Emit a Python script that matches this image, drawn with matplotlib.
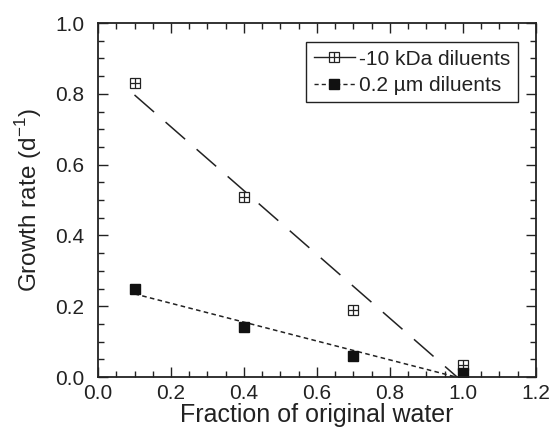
import numpy as np
import matplotlib
matplotlib.use('Agg')
import matplotlib.pyplot as plt
from matplotlib.lines import Line2D
from matplotlib.ticker import MultipleLocator, FormatStrFormatter

plt.rcParams['font.family'] = ['Liberation Sans', 'DejaVu Sans']

# data
fraction = [0.1, 0.4, 0.7, 1.0]
rate_10kda = [0.83, 0.51, 0.19, 0.035]
rate_02um = [0.25, 0.14, 0.06, 0.01]
labels = ['-10 kDa diluents', '0.2 µm diluents']

fig = plt.figure(figsize=(5.55, 4.36), dpi=100)
ax = fig.add_axes([0.1766, 0.1353, 0.789, 0.8117])

# regression lines drawn from first x to x-intercept
for y, dashes in [(rate_10kda, (17, 10)), (rate_02um, (3, 2.2))]:
    slope, icpt = np.polyfit(fraction, y, 1)
    x0 = -icpt / slope
    xs = np.array([fraction[0], x0])
    ax.plot(xs, slope * xs + icpt, color='#222222', lw=1.1, dashes=dashes)

ax.plot(fraction, rate_10kda, ls='none', marker='s', ms=7, mfc='white',
        mec='#222222', mew=0.9)
ax.plot(fraction, rate_10kda, ls='none', marker='+', ms=7, mec='#222222', mew=0.9)
ax.plot(fraction, rate_02um, ls='none', marker='s', ms=7.5, color='#111111')

ax.set_xlim(0, 1.2)
ax.set_ylim(0, 1.0)
ax.xaxis.set_major_locator(MultipleLocator(0.2))
ax.xaxis.set_minor_locator(MultipleLocator(0.05))
ax.yaxis.set_major_locator(MultipleLocator(0.2))
ax.yaxis.set_minor_locator(MultipleLocator(0.05))
ax.xaxis.set_major_formatter(FormatStrFormatter('%.1f'))
ax.yaxis.set_major_formatter(FormatStrFormatter('%.1f'))
ax.tick_params(which='both', direction='in', top=True, right=True,
               labelsize=15, color='#222222', labelcolor='#222222')
ax.tick_params(which='major', length=7, width=1, pad=5)
ax.tick_params(axis='y', which='major', pad=10)
ax.tick_params(which='minor', length=4, width=1)
for s in ax.spines.values():
    s.set_linewidth(1.3)
    s.set_color('#222222')

ax.set_xlabel('Fraction of original water', fontsize=18, labelpad=0,
              color='#222222')
ax.set_ylabel(r'Growth rate (d$^{\mathregular{-1}}$)', fontsize=17.5,
              labelpad=8, color='#222222')

h1 = (Line2D([], [], color='#222222', lw=1, marker='s', ms=7, mfc='white',
             mec='#222222', mew=0.9),
      Line2D([], [], ls='none', marker='+', ms=7, mec='#222222', mew=0.9))
h2 = Line2D([], [], color='#222222', lw=1, dashes=(3, 2.2), marker='s',
            ms=7.5, mfc='#111111', mec='#111111')
leg = ax.legend([h1, h2], labels, loc='upper right',
                bbox_to_anchor=(0.959, 0.946), borderaxespad=0, fontsize=15,
                numpoints=1, handlelength=2.0, handletextpad=0.2,
                fancybox=False, framealpha=1, edgecolor='#222222',
                borderpad=0.35, labelspacing=0.35)
leg.get_frame().set_linewidth(1)
for t in leg.get_texts():
    t.set_color('#222222')

fig.savefig('out.png', dpi=100)
